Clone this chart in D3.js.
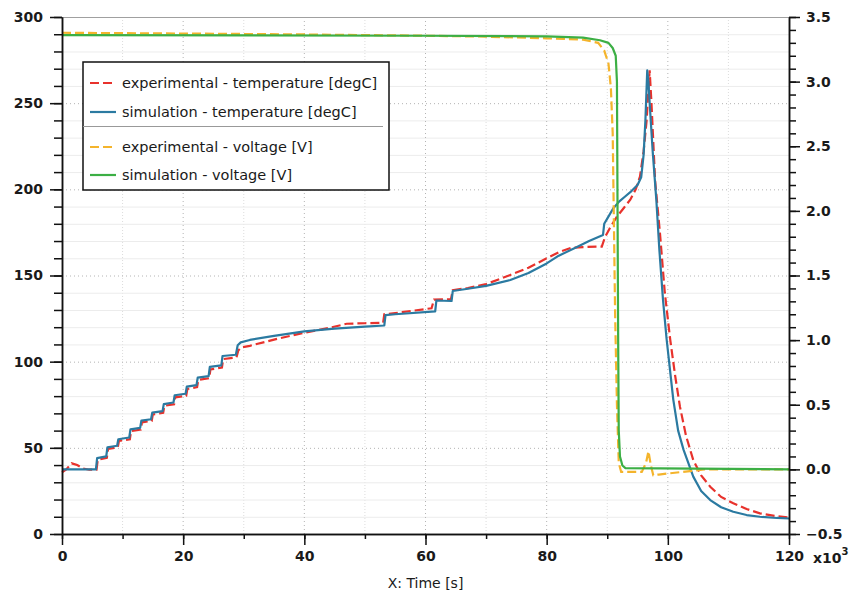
<!DOCTYPE html>
<html>
<head>
<meta charset="utf-8">
<script src="https://cdn.jsdelivr.net/npm/d3@7"></script>
<style>
  html, body { margin: 0; padding: 0; background: #fff; }
  svg { display: block; }
  text { font-family: "DejaVu Sans", Verdana, sans-serif; }
</style>
</head>
<body>
<svg id="chart" width="851" height="594"></svg>
<script>
// ---------------- data (x in thousands of seconds) ----------------
const xTicks = [0, 20, 40, 60, 80, 100, 120];
const leftTicks = [0, 50, 100, 150, 200, 250, 300];
const rightTicks = [-0.5, 0.0, 0.5, 1.0, 1.5, 2.0, 2.5, 3.0, 3.5];

const seriesNames = [
  "experimental - temperature [degC]",
  "simulation - temperature [degC]",
  "experimental - voltage [V]",
  "simulation - voltage [V]"
];

// experimental temperature [degC]
const expTemp = [
  [0,35.8],[0.7,37.5],[1.6,41],[2.5,40],[3.5,38],[4.5,37.3],[5.7,37.3],[5.9,43],[7.4,44.2],[7.6,49.3],
  [9.2,50.3],[9.4,54],[11.2,55],[11.4,59.7],[13.0,60.6],[13.2,64.8],[14.8,65.6],[15.0,69.4],[16.7,70.3],
  [16.9,74.4],[18.5,75.3],[18.7,79.3],[20.5,80.2],[20.7,84.2],[22.3,85.2],[22.5,89.4],[24.3,90.4],
  [24.5,95.5],[26.4,96.6],[26.6,101.5],[28.8,102.5],[29.1,106.5],[29.6,108.3],[31,109.2],[35,112.8],
  [40,116.8],[44,119.5],[47,122],[50,122.3],[53,122.5],[53.2,127.5],[55,128.2],[61,131],[61.4,136],
  [64.2,136.3],[64.5,141.5],[67,142.7],[70,145],[74,150.3],[77,154.5],[80,160],[82,163.5],[84,166],
  [86,166.5],[89.1,166.8],[89.6,172],[90.5,178],[91.6,184.2],[92.7,189],[93.8,194],[94.7,200],
  [95.4,207.4],[96,222],[96.5,240],[96.8,258],[97,269],[97.3,250],[97.9,205],[98.7,174.6],[99.5,140],
  [100.4,112.6],[101.2,92],[102,73.9],[103,57],[104.2,42.9],[105.5,34],[107,27.4],[108.8,21.5],
  [110.8,17.8],[113,14.5],[115.2,12],[118,10.3],[120,9.5]
];

// simulated temperature [degC]
const simTemp = [
  [0,37.5],[5.6,37.5],[5.8,44],[7.3,45],[7.5,50.3],[9.1,51.2],[9.3,55],[11.1,56],[11.3,60.7],
  [12.9,61.6],[13.1,65.8],[14.7,66.6],[14.9,70.4],[16.6,71.3],[16.8,75.4],[18.4,76.3],[18.6,80.5],
  [20.4,81.4],[20.6,85.5],[22.2,86.4],[22.4,90.7],[24.2,91.6],[24.4,97],[26.3,97.8],[26.5,103.3],
  [28.7,104],[29.0,109.5],[29.5,111.2],[31,112.6],[35,115],[40,117.6],[45,119.2],[50,120.3],
  [53.2,121],[53.4,127],[55,127.5],[61.6,129.2],[61.8,135.5],[64.3,135.2],[64.5,141],[67,142.3],
  [70,144],[74,147.4],[77,151.5],[80,157],[82,161.5],[85,166.6],[87,170],[89.3,173.5],[89.5,180],
  [90,183],[91,189],[92,193],[93,196],[94,199],[95,202.5],[95.6,207],[96,220],[96.3,240],[96.6,269],
  [96.8,262],[97,250],[97.5,222],[98.1,194],[98.6,165],[99.2,136],[99.8,113],[100.9,78],[101.7,60],
  [102.6,48.8],[104.2,33.3],[105.5,25],[107,19.7],[108.8,15.5],[110.8,12.9],[113,11],[115.2,10],
  [118,9.3],[120,9]
];

// experimental voltage [V]
const expVolt = [
  [0,3.378],[20,3.372],[40,3.365],[60,3.355],[70,3.348],[80,3.335],[86,3.325],[88.5,3.30],
  [89.5,3.24],[90.2,3.14],[90.6,2.95],[90.9,2.6],[91.1,1.9],[91.3,1.2],[91.6,0.5],[91.9,0.05],
  [92.3,-0.02],[93.8,-0.02],[95.7,-0.02],[96.4,0.05],[96.8,0.14],[97.2,0.03],[97.6,-0.045],
  [98.5,-0.04],[100.4,-0.03],[104.2,-0.01],[106,0],[120,0]
];

// simulated voltage [V]
const simVolt = [
  [0,3.36],[60,3.355],[80,3.35],[86,3.34],[88.8,3.32],[90.2,3.30],[90.9,3.26],[91.4,3.2],
  [91.6,3.0],[91.7,2.0],[91.8,1.0],[91.9,0.3],[92.1,0.1],[92.5,0.03],[93,0.01],[120,0.0]
];

// ---------------- layout ----------------
const svg = d3.select("#chart");
const L = 62, R = 789, T = 17, B = 534;

const x = d3.scaleLinear().domain([0, 120]).range([L, R]);
const yL = d3.scaleLinear().domain([0, 300]).range([B, T]);
const yR = d3.scaleLinear().domain([-0.5, 3.5]).range([B, T]);

const xMinor = d3.range(0, 121, 10);
const yMinor = d3.range(0, 301, 10);
const yRMinor = d3.range(-5, 36, 1).map(v => v / 10);

// grid
const grid = svg.append("g");
grid.selectAll(".gxm").data(xMinor.filter(v => v % 20 !== 0)).join("line")
  .attr("x1", d => x(d)).attr("x2", d => x(d)).attr("y1", T).attr("y2", B)
  .attr("stroke", "#dcdcdc").attr("stroke-width", 1).attr("stroke-dasharray", "1,2");
grid.selectAll(".gym").data(yMinor.filter(v => v % 50 !== 0)).join("line")
  .attr("x1", L).attr("x2", R).attr("y1", d => yL(d) + 0.5).attr("y2", d => yL(d) + 0.5)
  .attr("stroke", "#ececec").attr("stroke-width", 1);
grid.selectAll(".gxM").data(xTicks.filter(v => v > 0 && v < 120)).join("line")
  .attr("x1", d => x(d)).attr("x2", d => x(d)).attr("y1", T).attr("y2", B)
  .attr("stroke", "#b4b4b4").attr("stroke-width", 1).attr("stroke-dasharray", "1,3");
grid.selectAll(".gyM").data(leftTicks.filter(v => v > 0 && v < 300)).join("line")
  .attr("x1", L).attr("x2", R).attr("y1", d => yL(d) + 0.5).attr("y2", d => yL(d) + 0.5)
  .attr("stroke", "#b4b4b4").attr("stroke-width", 1).attr("stroke-dasharray", "1,3");

// top frame line
svg.append("line").attr("x1", L).attr("x2", R).attr("y1", T + 0.5).attr("y2", T + 0.5)
  .attr("stroke", "#a0a0a0").attr("stroke-width", 1);

// ---------------- lines ----------------
const lineL = d3.line().x(d => x(d[0])).y(d => yL(d[1]));
const lineR = d3.line().x(d => x(d[0])).y(d => yR(d[1]));

const colors = ["#e8322c", "#2b7aa1", "#f4b42c", "#3caf45"];
const plot = svg.append("g");
plot.append("path").datum(expTemp).attr("d", lineL).attr("fill", "none")
  .attr("stroke", colors[0]).attr("stroke-width", 2.2).attr("stroke-dasharray", "9,4");
plot.append("path").datum(simTemp).attr("d", lineL).attr("fill", "none")
  .attr("stroke", colors[1]).attr("stroke-width", 2.2).attr("stroke-linejoin", "round");
plot.append("path").datum(expVolt).attr("d", lineR).attr("fill", "none")
  .attr("stroke", colors[2]).attr("stroke-width", 2.2).attr("stroke-dasharray", "9,4");
plot.append("path").datum(simVolt).attr("d", lineR).attr("fill", "none")
  .attr("stroke", colors[3]).attr("stroke-width", 2.2).attr("stroke-linejoin", "round");

// ---------------- axes ----------------
function styleAxis(g) {
  g.selectAll("path.domain").attr("stroke", "#111").attr("stroke-width", 1.5);
  g.selectAll(".tick line").attr("stroke", "#111").attr("stroke-width", 1.5);
  g.selectAll("text").attr("fill", "#1a1a1a").attr("font-size", 14).attr("font-weight", "bold")
    .attr("font-family", "DejaVu Sans, Verdana, sans-serif");
}

// minor ticks
svg.append("g").attr("transform", `translate(${L},0)`)
  .call(d3.axisLeft(yL).tickValues(yMinor).tickSize(8).tickFormat("").tickSizeOuter(0))
  .call(styleAxis);
svg.append("g").attr("transform", `translate(${R},0)`)
  .call(d3.axisRight(yR).tickValues(yRMinor).tickSize(7).tickFormat("").tickSizeOuter(0))
  .call(styleAxis);
svg.append("g").attr("transform", `translate(0,${B})`)
  .call(d3.axisBottom(x).tickValues(xMinor).tickSize(5).tickFormat("").tickSizeOuter(0))
  .call(styleAxis);

// major ticks + labels
svg.append("g").attr("transform", `translate(${L},0)`)
  .call(d3.axisLeft(yL).tickValues(leftTicks).tickSize(12).tickPadding(7).tickSizeOuter(0).tickFormat(d3.format("d")))
  .call(styleAxis);
svg.append("g").attr("transform", `translate(${R},0)`)
  .call(d3.axisRight(yR).tickValues(rightTicks).tickSize(11).tickPadding(6).tickSizeOuter(0).tickFormat(d3.format(".1f")))
  .call(styleAxis);
svg.append("g").attr("transform", `translate(0,${B})`)
  .call(d3.axisBottom(x).tickValues(xTicks).tickSize(11).tickPadding(6).tickSizeOuter(0).tickFormat(d3.format("d")))
  .call(styleAxis);

// axis title and exponent
svg.append("text").attr("x", (L + R) / 2).attr("y", 588).attr("text-anchor", "middle")
  .attr("font-size", 14).attr("fill", "#1a1a1a").text("X: Time [s]");
const ex = svg.append("text").attr("x", 813).attr("y", 563).attr("font-size", 14)
  .attr("font-weight", "bold").attr("fill", "#1a1a1a");
ex.append("tspan").text("x10");
ex.append("tspan").attr("dy", -8).attr("font-size", 10).text("3");

// ---------------- legend ----------------
const lg = svg.append("g");
lg.append("rect").attr("x", 83).attr("y", 62).attr("width", 306).attr("height", 128)
  .attr("fill", "#fff").attr("stroke", "#111").attr("stroke-width", 1.5);
const rowsY = [83, 112, 147, 175];
const dashed = [true, false, true, false];
seriesNames.forEach((name, i) => {
  lg.append("line").attr("x1", 90).attr("x2", 116).attr("y1", rowsY[i]).attr("y2", rowsY[i])
    .attr("stroke", colors[i]).attr("stroke-width", 2.2)
    .attr("stroke-dasharray", dashed[i] ? "9,4" : null);
  lg.append("text").attr("x", 122).attr("y", rowsY[i]).attr("dy", "0.36em")
    .attr("font-size", 14.5).attr("fill", "#1a1a1a").text(name);
});
lg.append("line").attr("x1", 83).attr("x2", 383).attr("y1", 126.5).attr("y2", 126.5)
  .attr("stroke", "#999").attr("stroke-width", 1.2);
</script>
</body>
</html>
